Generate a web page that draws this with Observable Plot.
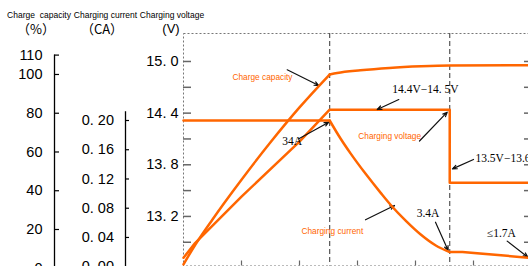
<!DOCTYPE html>
<html><head><meta charset="utf-8">
<script src="https://cdn.jsdelivr.net/npm/d3@7"></script>
<script src="https://cdn.jsdelivr.net/npm/@observablehq/plot@0.6"></script>
<style>
html,body{margin:0;padding:0;background:#fff;}
#chart{position:relative;width:528px;height:266px;overflow:hidden;font-family:"Liberation Sans",Arial,sans-serif;}
#chart svg{position:absolute;left:0;top:0;}
.hdr{position:absolute;white-space:pre;color:#000;transform:translate(-50%,-50%);line-height:1;}
</style></head><body><div id="chart"></div>
<script>
// ---- data (time in hours, one bottom tick per hour) ----
const phaseEnds = [2.52, 4.59];            // end of constant current, end of constant voltage
const timeTicks = [1, 2, 3, 4, 5];

const capacityTime  = [0, 0.2, 0.5, 1.0, 1.5, 2.0, 2.52, 2.52, 2.65, 3.05, 3.55, 4.1, 4.59, 6];
const capacityPct   = [2, 12, 25.2, 45.7, 65, 83, 100, 100, 100.8, 102.2, 103.4, 104.2, 104.6, 104.8];
const capacityPhase = ["CC","CC","CC","CC","CC","CC","CC","CV","CV","CV","CV","CV","CV","CV"];

const voltageTime = [0, 0.2, 1.0, 2.0, 2.52, 4.59, 4.59, 6];
const voltageV    = [12.72, 12.89, 13.43, 14.07, 14.44, 14.44, 13.59, 13.59];

const currentTime  = [0, 2.52, 2.52, 2.71, 2.88, 3.14, 3.4, 3.6, 3.83, 4.09, 4.35, 4.59, 4.59, 4.81, 6];
const currentCA    = [0.2, 0.2, 0.2, 0.175, 0.155, 0.127, 0.101, 0.082, 0.063, 0.044, 0.029, 0.02, 0.02, 0.02, 0.012];
const currentPhase = ["CC","CC","CV","CV","CV","CV","CV","CV","CV","CV","CV","CV","F","F","F"];

const capacityTicks = [0, 20, 40, 60, 80, 100, 110];
const currentTicks  = [0, 0.04, 0.08, 0.12, 0.16, 0.20];
const voltageTicks  = [12.9, 13.2, 13.5, 13.8, 14.1, 14.4, 14.7, 15.0];
const voltageLabels = [13.2, 13.8, 14.4, 15.0];

const orangeNotes = [
  {text: "Charge capacity",  x: 1.362, y: 14.814},
  {text: "Charging voltage", x: 3.555, y: 14.132},
  {text: "Charging current", x: 2.566, y: 13.025}
];
const blackNotes = [
  {text: "34A",          x: 1.874, y: 14.071},
  {text: "14.4V−14. 5V", x: 4.172, y: 14.671},
  {text: "3.4A",         x: 4.216, y: 13.231},
  {text: "≤1.7A",        x: 5.48,  y: 12.999}
];
const blackNotesStart = [
  {text: "13.5V−13.6V", x: 5.034, y: 13.873}
];
const arrows = [
  {x1: 1.788, y1: 14.903, x2: 2.333, y2: 14.72},
  {x1: 1.988, y1: 14.102, x2: 2.505, y2: 14.295},
  {x1: 3.712, y1: 14.558, x2: 3.34,  y2: 14.442},
  {x1: 4.069, y1: 14.076, x2: 4.547, y2: 14.411},
  {x1: 5.0,   y1: 13.862, x2: 4.638, y2: 13.752},
  {x1: 4.345, y1: 13.133, x2: 4.563, y2: 12.804},
  {x1: 5.581, y1: 12.913, x2: 5.936, y2: 12.727},
  {x1: 3.138, y1: 13.161, x2: 3.638, y2: 13.327}
];

const headers = [
  {text: "Charge  capacity", x: 39,  y: 15, size: 8.5},
  {text: "Charging current", x: 105.5, y: 15, size: 8.5},
  {text: "Charging voltage", x: 172, y: 15, size: 8.5},
  {text: "（%）", x: 36,  y: 28, size: 13, cjk: true},
  {text: "（CA）", x: 102, y: 28, size: 13, cjk: true},
  {text: "(V)",  x: 171, y: 28, size: 13}
];

// ---- build ----
const capacity = capacityTime.map((t, i) => ({t, v: capacityPct[i], phase: capacityPhase[i]}));
const voltage  = voltageTime.map((t, i) => ({t, v: voltageV[i]}));
const current  = currentTime.map((t, i) => ({t, v: currentCA[i], phase: currentPhase[i]}));

const ORANGE = "#ff6600";
const SANS = "'Liberation Sans', Arial, sans-serif";
const SERIF = "'Liberation Serif', 'Times New Roman', serif";
const X = {domain: [0, 6], range: [183, 531]};
const dotSpace = (d, n) => d.toFixed(n).replace(".", ". ");

const main = Plot.plot({
  width: 528, height: 266,
  marginLeft: 183, marginTop: 33, marginBottom: 0.5, marginRight: -3,
  x: {...X, label: null},
  y: {domain: [12.63, 15.325], range: [265, 33], label: null},
  style: {background: "white", fontFamily: SANS, overflow: "hidden"},
  marks: [
    Plot.frame({stroke: "#777", strokeDasharray: "2,2"}),
    Plot.ruleX(phaseEnds, {stroke: "#555", strokeDasharray: "5,3", strokeWidth: 1.2}),
    Plot.axisX({anchor: "bottom", ticks: timeTicks, tickSize: 5, dy: -5, text: null, label: null, stroke: "#666", strokeWidth: 1.2}),
    Plot.axisY({anchor: "left", ticks: voltageTicks, tickSize: 8, dx: 8, text: null, label: null, stroke: "#666", strokeWidth: 1.5}),
    Plot.axisY({anchor: "right", ticks: voltageTicks, tickSize: 8, dx: -8, text: null, label: null, stroke: "#666", strokeWidth: 1.5}),
    Plot.axisY({anchor: "left", ticks: voltageLabels, tickSize: 0, tickPadding: 5, label: null, tickFormat: d => dotSpace(d, 1), fontSize: 14.5, fill: "#000"}),
    Plot.line(voltage, {x: "t", y: "v", stroke: ORANGE, strokeWidth: 2.5}),
    Plot.arrow(arrows, {x1: "x1", y1: "y1", x2: "x2", y2: "y2", stroke: "#111", strokeWidth: 1.2, headLength: 6, headAngle: 45}),
    Plot.text(orangeNotes, {x: "x", y: "y", text: "text", fill: ORANGE, fontSize: 8.3, fontFamily: SANS}),
    Plot.text(blackNotes, {x: "x", y: "y", text: "text", fill: "#000", fontSize: 11.5, fontFamily: SERIF}),
    Plot.text(blackNotesStart, {x: "x", y: "y", text: "text", fill: "#000", fontSize: 11.5, fontFamily: SERIF, textAnchor: "start"})
  ]
});

const currentPlot = Plot.plot({
  width: 528, height: 266,
  marginLeft: 125, marginTop: 0, marginBottom: 0, marginRight: -3,
  x: {...X, axis: null, label: null},
  y: {domain: [0, 0.2], range: [266.2, 120], label: null},
  style: {background: "transparent", fontFamily: SANS},
  marks: [
    Plot.ruleX([0], {y1: 0, y2: 0.212, dx: -58, stroke: "#000", strokeWidth: 1.3}),
    Plot.axisY({anchor: "left", ticks: currentTicks, tickSize: 4, dx: 4, text: null, label: null, stroke: "#000", strokeWidth: 1.2}),
    Plot.axisY({anchor: "left", ticks: currentTicks, tickSize: 0, tickPadding: 11.5, label: null, tickFormat: d => dotSpace(d, 2), fontSize: 14.5, fill: "#000"}),
    Plot.line(current.filter(d => d.phase !== "CV"), {x: "t", y: "v", z: "phase", stroke: ORANGE, strokeWidth: 2.5}),
    Plot.line(current.filter(d => d.phase === "CV"), {x: "t", y: "v", curve: "monotone-x", stroke: ORANGE, strokeWidth: 2.5})
  ]
});

const capacityPlot = Plot.plot({
  width: 528, height: 266,
  marginLeft: 54, marginTop: 0, marginBottom: 0, marginRight: -3,
  x: {...X, axis: null, label: null},
  y: {domain: [0, 110], range: [267.75, 54.6], label: null},
  style: {background: "transparent", fontFamily: SANS},
  marks: [
    Plot.ruleX([0], {y1: 0, y2: 110, dx: -129, stroke: "#000", strokeWidth: 1.3}),
    Plot.axisY({anchor: "left", ticks: capacityTicks, tickSize: 5, dx: 5, text: null, label: null, stroke: "#000", strokeWidth: 1.2}),
    Plot.axisY({anchor: "left", ticks: capacityTicks, tickSize: 0, tickPadding: 12, label: null, fontSize: 14.5, fill: "#000"}),
    Plot.line(capacity, {x: "t", y: "v", z: "phase", curve: "monotone-x", stroke: ORANGE, strokeWidth: 2.5})
  ]
});

const chart = document.getElementById("chart");
chart.append(main, currentPlot, capacityPlot);
for (const h of headers) {
  const d = document.createElement("div");
  d.className = "hdr";
  d.textContent = h.text;
  d.style.left = h.x + "px";
  d.style.top = h.y + "px";
  d.style.fontSize = h.size + "px";
  if (h.cjk) d.style.fontFamily = "'Noto Sans CJK SC', sans-serif";
  chart.append(d);
}
</script></body></html>
